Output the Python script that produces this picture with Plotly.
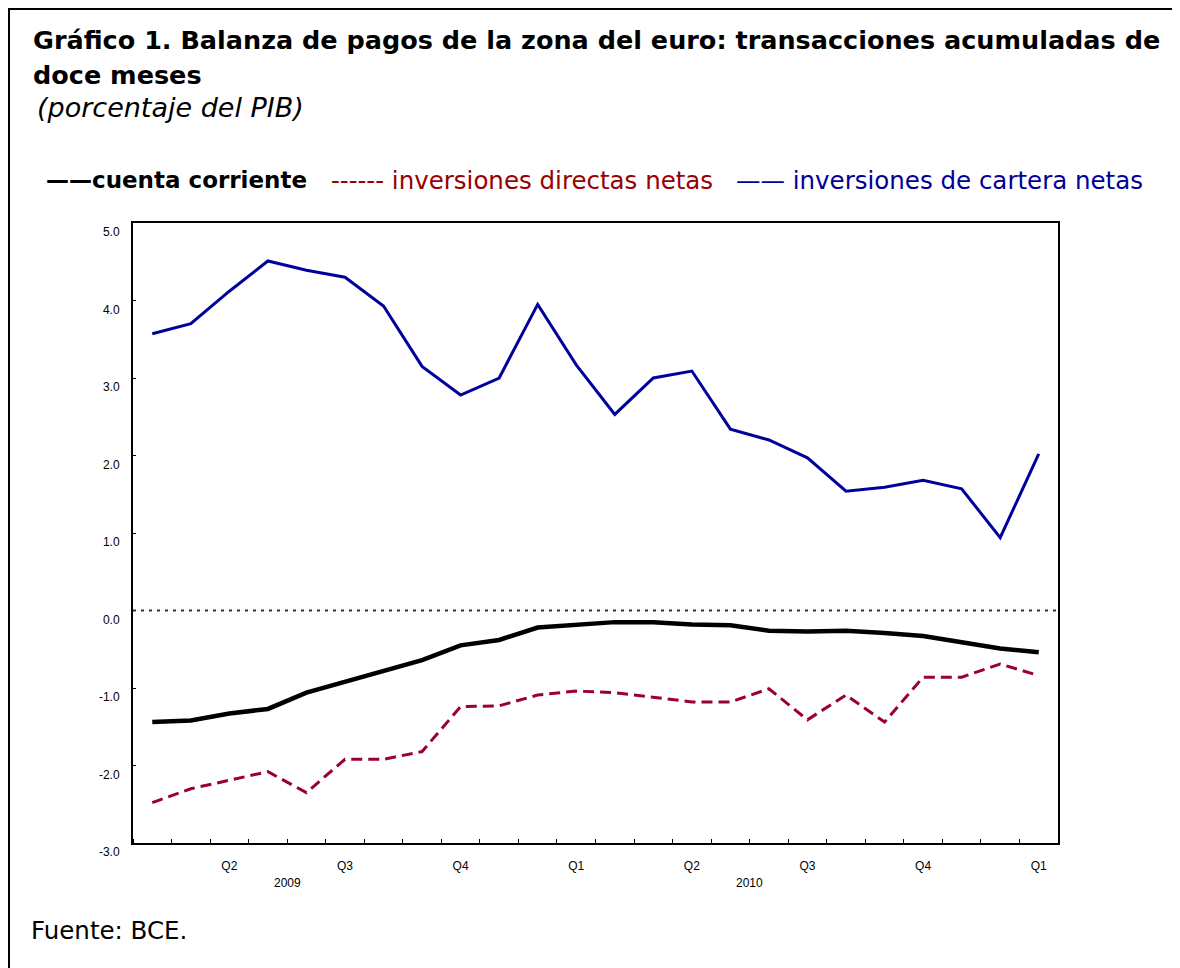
import plotly.graph_objects as go

# Monthly positions (index of month), quarter tick labels and years
months = list(range(24))
quarter_pos = [2, 5, 8, 11, 14, 17, 20, 23]
quarter_labels = ["Q2", "Q3", "Q4", "Q1", "Q2", "Q3", "Q4", "Q1"]
year_pos = [3.5, 15.5]
year_labels = ["2009", "2010"]

cuenta_corriente = [-1.44, -1.42, -1.33, -1.27, -1.06, -0.92, -0.78, -0.64, -0.45, -0.38,
                    -0.22, -0.18, -0.15, -0.15, -0.18, -0.19, -0.26, -0.27, -0.26, -0.29,
                    -0.33, -0.41, -0.49, -0.54]
inv_directas = [-2.48, -2.30, -2.19, -2.08, -2.35, -1.92, -1.92, -1.82, -1.24, -1.23,
                -1.09, -1.04, -1.06, -1.12, -1.18, -1.18, -1.01, -1.41, -1.09, -1.44,
                -0.86, -0.86, -0.69, -0.84]
inv_cartera = [3.57, 3.70, 4.12, 4.51, 4.39, 4.30, 3.93, 3.15, 2.78, 3.00,
               3.95, 3.17, 2.53, 3.00, 3.09, 2.34, 2.20, 1.97, 1.54, 1.59,
               1.68, 1.57, 0.94, 2.02]

y_ticks = [-3, -2, -1, 0, 1, 2, 3, 4, 5]
y_ticktext = ["-3.0", "-2.0", "-1.0", "0.0", "1.0", "2.0", "3.0", "4.0", "5.0"]

OFF = 8  # page body margin
W, H = 1172, 960
L, R, T, B = 125, 122, 215, 125
PW, PH = W - L - R, H - T - B


def px(x):
    """page x pixel -> paper coordinate"""
    return (x - OFF - L) / PW


def py(y):
    """page y pixel -> paper coordinate"""
    return (H - B - (y - OFF)) / PH


fig = go.Figure()
fig.add_trace(go.Scatter(x=months, y=inv_cartera, mode="lines",
                         line=dict(color="#00009C", width=3), name="inversiones de cartera netas"))
fig.add_trace(go.Scatter(x=months, y=cuenta_corriente, mode="lines",
                         line=dict(color="#000000", width=4.5), name="cuenta corriente"))
fig.add_trace(go.Scatter(x=months, y=inv_directas, mode="lines",
                         line=dict(color="#990033", width=3, dash="11px,6px"),
                         name="inversiones directas netas"))

tickfont = dict(family="Liberation Sans", size=12, color="black")

fig.update_layout(
    width=W, height=H, autosize=False,
    margin=dict(l=L, r=R, t=T, b=B, pad=0),
    paper_bgcolor="white", plot_bgcolor="white",
    showlegend=False,
    xaxis=dict(range=[-0.5, 23.5], tickmode="array", tickvals=quarter_pos,
               ticktext=quarter_labels, ticks="", showgrid=False, zeroline=False,
               showline=True, linecolor="black", linewidth=2, mirror=True,
               tickfont=tickfont, ticklabelstandoff=11,
               minor=dict(tickmode="array", tickvals=[k - 0.5 for k in range(25)],
                          ticks="inside", ticklen=4, tickcolor="black", tickwidth=1,
                          showgrid=False)),
    yaxis=dict(range=[-3, 5], tickmode="array", tickvals=y_ticks, ticktext=y_ticktext,
               ticks="inside", ticklen=3, tickcolor="black", showgrid=False,
               zeroline=False, showline=True, linecolor="black", linewidth=2,
               mirror=True, tickfont=tickfont, ticklabelshift=9, ticklabelstandoff=9),
    yaxis2=dict(range=[-3, 5], overlaying="y", side="right", tickmode="array",
                tickvals=y_ticks, ticktext=y_ticktext, ticks="inside", ticklen=3,
                tickcolor="black", showgrid=False, zeroline=False, showline=True,
                linecolor="black", linewidth=2, tickfont=tickfont,
                ticklabelshift=9, ticklabelstandoff=9),
)

# dotted zero line
fig.add_shape(type="line", xref="paper", yref="y", x0=0, x1=1, y0=0, y1=0,
              line=dict(color="#333333", width=2, dash="3px,5px"))

# outer frame
fig.add_shape(type="rect", xref="paper", yref="paper", x0=px(9), x1=px(1173),
              y0=py(990), y1=py(9), line=dict(color="black", width=2), layer="below")

ann = []
ann.append(dict(text="<b>Gráfico 1. Balanza de pagos de la zona del euro: transacciones acumuladas de</b>",
                x=px(31), y=py(40), xanchor="left", yanchor="middle",
                font=dict(family="DejaVu Sans", size=25.5, color="black")))
ann.append(dict(text="<b>doce meses</b>", x=px(31), y=py(75), xanchor="left", yanchor="middle",
                font=dict(family="DejaVu Sans", size=25.5, color="black")))
ann.append(dict(text="<i>(porcentaje del PIB)</i>", x=px(35), y=py(107), xanchor="left",
                yanchor="middle", font=dict(family="DejaVu Sans", size=27, color="black")))
ann.append(dict(text="<b>——cuenta corriente</b>", x=px(44), y=py(180), xanchor="left",
                yanchor="middle", font=dict(family="DejaVu Sans", size=23, color="black")))
ann.append(dict(text="------ inversiones directas netas", x=px(329), y=py(180), xanchor="left",
                yanchor="middle", font=dict(family="DejaVu Sans", size=24.5, color="#990000")))
ann.append(dict(text="—— inversiones de cartera netas", x=px(734), y=py(180), xanchor="left",
                yanchor="middle", font=dict(family="DejaVu Sans", size=24.5, color="#000099")))
ann.append(dict(text="Fuente: BCE.", x=px(29), y=py(930), xanchor="left", yanchor="middle",
                font=dict(family="DejaVu Sans", size=24.5, color="black")))
for xp, lab in zip(year_pos, year_labels):
    ann.append(dict(text=lab, x=xp, xref="x", y=py(883), yref="paper", xanchor="center",
                    yanchor="middle", font=tickfont))
for a in ann:
    a.setdefault("xref", "paper")
    a.setdefault("yref", "paper")
    a["showarrow"] = False
    fig.add_annotation(**a)

fig.write_html("out.html")
